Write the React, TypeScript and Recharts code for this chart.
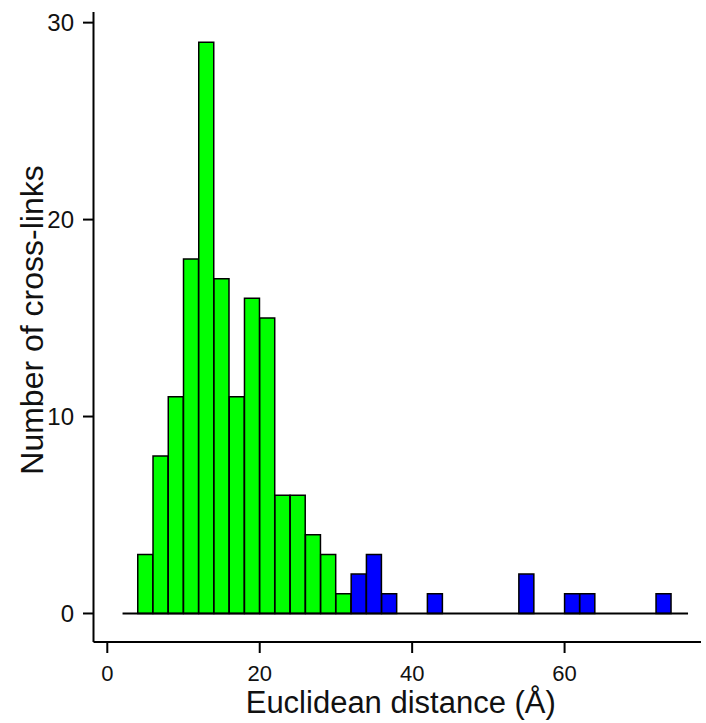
import React from 'react';
import { ComposedChart, Bar, XAxis, YAxis, ReferenceLine } from 'recharts';

const FONT = '"Liberation Sans", Arial, Helvetica, sans-serif';

// histogram bins (lower edges, width 2 Å)
const binStarts = [4, 6, 8, 10, 12, 14, 16, 18, 20, 22, 24, 26, 28, 30, 32, 34, 36, 38, 40, 42, 44, 46, 48, 50, 52, 54, 56, 58, 60, 62, 64, 66, 68, 70, 72];
const counts = [3, 8, 11, 18, 29, 17, 11, 16, 15, 6, 6, 4, 3, 1, 2, 3, 1, 0, 0, 1, 0, 0, 0, 0, 0, 2, 0, 0, 1, 1, 0, 0, 0, 0, 1];
const binWidth = 2;
const cutoff = 32;
const xTicks = [0, 20, 40, 60];
const yTicks = [0, 10, 20, 30];
const baselineRange = [2, 76.2];

const data = binStarts.map((s, i) => ({
  x: s + binWidth / 2,
  within: s < cutoff ? counts[i] : 0,
  beyond: s >= cutoff ? counts[i] : 0,
}));

const XTitle = () => (
  <text x={400.8} y={713} textAnchor="middle" fontSize={31} fontFamily={FONT} fill="#111">
    Euclidean distance (Å)
  </text>
);

const YTitle = () => (
  <text
    x={43}
    y={320}
    textAnchor="middle"
    fontSize={32}
    fontFamily={FONT}
    fill="#111"
    transform="rotate(-90, 43, 320)"
  >
    Number of cross-links
  </text>
);

const XTick = (props: any) => (
  <text x={props.x} y={props.y} dy="0.71em" textAnchor="middle" fontSize={22} fontFamily={FONT} fill="#111">
    {props.payload.value}
  </text>
);

const YTick = (props: any) => (
  <text x={props.x} y={props.y} dy="0.355em" textAnchor="end" fontSize={24} fontFamily={FONT} fill="#111">
    {props.payload.value}
  </text>
);

export default function App() {
  return (
    <div style={{ position: 'absolute', left: 0, top: 0, background: '#fff' }}>
      <ComposedChart
        width={706}
        height={723}
        data={data}
        margin={{ top: 12, right: 5, bottom: 0, left: 0.5 }}
        barCategoryGap={0}
        barGap={0}
      >
        <XAxis
          dataKey="x"
          type="number"
          domain={[-1.81, 77.9]}
          ticks={xTicks}
          interval={0}
          allowDataOverflow
          height={81}
          tickSize={11}
          tickMargin={12}
          axisLine={{ stroke: '#000', strokeWidth: 2 }}
          tickLine={{ stroke: '#000', strokeWidth: 2 }}
          tick={<XTick />}
          label={<XTitle />}
        />
        <YAxis
          type="number"
          domain={[-1.448, 30.54]}
          ticks={yTicks}
          interval={0}
          allowDataOverflow
          width={93}
          tickSize={10.5}
          tickMargin={9}
          axisLine={{ stroke: '#000', strokeWidth: 2 }}
          tickLine={{ stroke: '#000', strokeWidth: 2 }}
          tick={<YTick />}
          label={<YTitle />}
        />
        <ReferenceLine
          segment={[
            { x: baselineRange[0], y: 0 },
            { x: baselineRange[1], y: 0 },
          ]}
          stroke="#000"
          strokeWidth={2}
          ifOverflow="visible"
        />
        <Bar dataKey="within" stackId="h" fill="#00FF00" stroke="#000" strokeWidth={1.5} isAnimationActive={false} />
        <Bar dataKey="beyond" stackId="h" fill="#0000FF" stroke="#000" strokeWidth={1.5} isAnimationActive={false} />
      </ComposedChart>
    </div>
  );
}
